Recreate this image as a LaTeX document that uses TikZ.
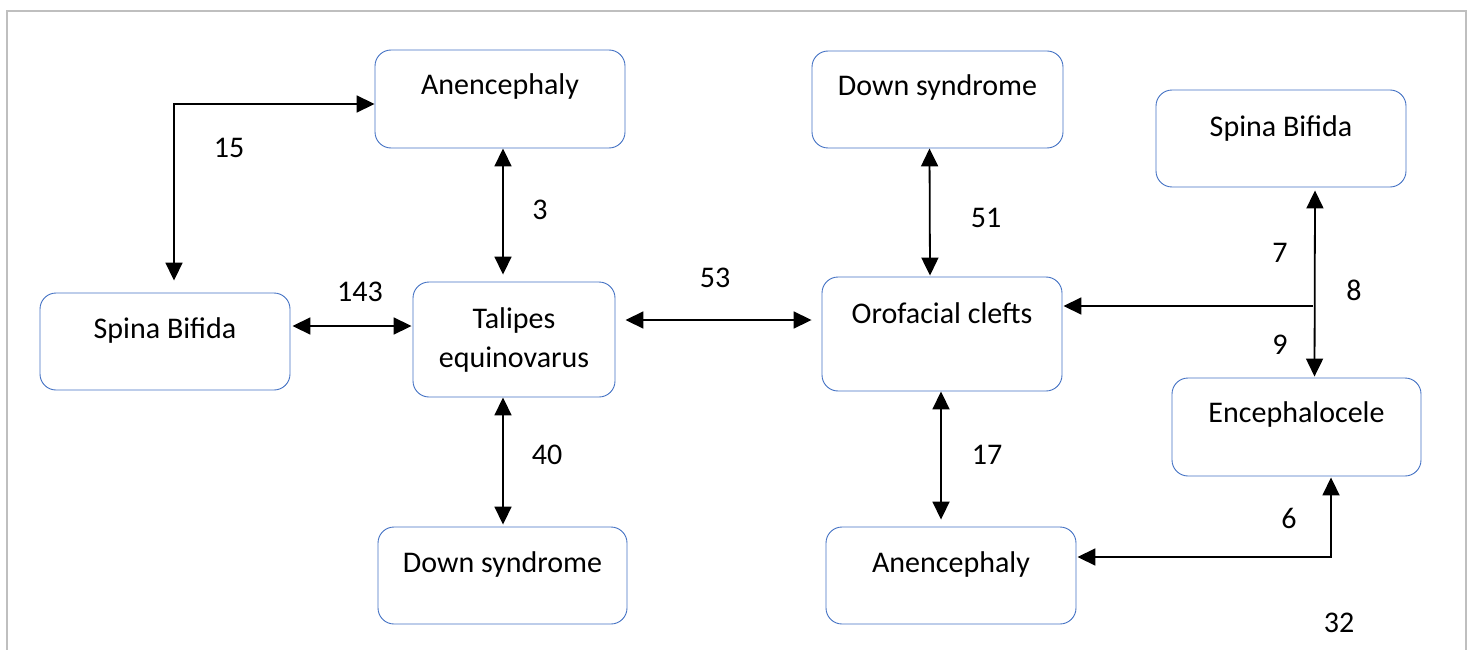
\documentclass[tikz,border=0pt]{standalone}
\usepackage{fontspec}
\setmainfont{Carlito}
\usetikzlibrary{arrows.meta,positioning}

\definecolor{boxblue}{HTML}{4472C4}

\begin{document}
\begin{tikzpicture}[
    x=1pt, y=-1pt,
    defect/.style={rectangle, draw=boxblue, fill=white, line width=0.9pt, rounded corners=16pt, minimum width=250pt, inner sep=0pt, align=center, font=\fontsize{30}{39}\selectfont},
    num/.style={inner sep=0pt, font=\fontsize{30}{36}\selectfont},
    link/.style={line width=1.8pt, {Triangle[length=18pt,width=17pt]}-{Triangle[length=18pt,width=17pt]}},
    feed/.style={line width=1.8pt, -{Triangle[length=18pt,width=17pt]}}
]
\useasboundingbox (0,0) rectangle (1474,650);

% Frame
\draw[gray!50, line width=1.5pt] (7,660) -- (7,11) -- (1466,11) -- (1466,660);

% Left cluster
\node[defect, text height=45pt, text depth=53pt] (anenT) at (500,99) {Anencephaly};
\node[defect, text height=45pt, text depth=52pt] (spinaL) at (165,341.5) {Spina Bifida};
\node[defect, minimum width=202pt, minimum height=115pt] (talipes) at (514,339.5) {Talipes\\equinovarus};
\node[defect, minimum width=249pt, text height=45pt, text depth=52pt] (downB) at (502.5,575.5) {Down syndrome};

% Right cluster
\node[defect, minimum width=251pt, text height=45pt, text depth=52pt] (downT) at (937.5,99.5) {Down syndrome};
\node[defect, minimum width=240pt, text height=46pt, text depth=68pt] (orofacial) at (942,334) {Orofacial clefts};
\node[defect, text height=46pt, text depth=51pt] (spinaR) at (1281,138.5) {Spina Bifida};
\node[defect, minimum width=249pt, text height=44pt, text depth=54pt] (enceph) at (1296.5,427) {Encephalocele};
\node[defect, text height=45pt, text depth=52pt] (anenB) at (951,575.5) {Anencephaly};

% Connectors
\draw[link] ([yshift=-5pt]anenT.west) -| ([xshift=9pt,yshift=12pt]spinaL.north);
\draw[link] ([xshift=3pt]anenT.south) -- ([xshift=-11pt,yshift=7pt]talipes.north);
\draw[link] ([xshift=2pt,yshift=15.5pt]spinaL.east) -- ([xshift=-1pt,yshift=13.5pt]talipes.west);
\draw[link] ([xshift=10pt,yshift=19.5pt]talipes.east) -- ([xshift=-10pt,yshift=14pt]orofacial.west);
\draw[link] ([xshift=-11pt]talipes.south) -- ([xshift=0.5pt,yshift=2pt]downB.north);
\draw[link] ([xshift=-8pt]downT.south) -- ([xshift=-12pt,yshift=1pt]orofacial.north);
\draw[link] ([xshift=-1pt]orofacial.south) -- ([xshift=-10pt,yshift=7pt]anenB.north);
\draw[link] ([xshift=34pt,yshift=-3pt]spinaR.south) -- ([xshift=18pt,yshift=1pt]enceph.north);
\coordinate (junc) at (1313,306);
\draw[feed] (junc) -- ([xshift=1pt,yshift=28pt]orofacial.east);
\draw[link] ([xshift=1pt,yshift=18.5pt]anenB.east) -| ([xshift=34.5pt,yshift=-1pt]enceph.south);

% Counts
\node[num] (n15) at (229,148) {15};
\node[num] (n3) at (540,210) {3};
\node[num] (n143) at (360,292) {143};
\node[num] (n53) at (715,278) {53};
\node[num] (n40) at (547,455) {40};
\node[num] (n51) at (986,218) {51};
\node[num] (n17) at (987,455) {17};
\node[num] (n7) at (1280,253) {7};
\node[num] (n8) at (1354,290) {8};
\node[num] (n9) at (1280,345) {9};
\node[num] (n6) at (1289,518) {6};
\node[num] (n32) at (1339,623) {32};

\end{tikzpicture}
\end{document}
